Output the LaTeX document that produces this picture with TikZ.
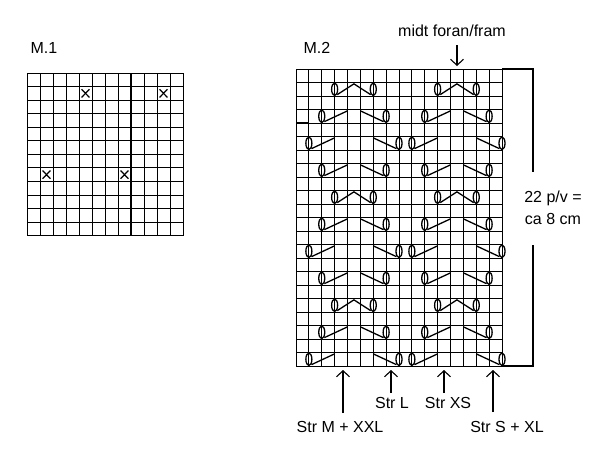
\documentclass[tikz,border=0pt]{standalone}
\usepackage{fontspec}
\setmainfont{Liberation Sans}
\usetikzlibrary{arrows.meta}
\begin{document}
\begin{tikzpicture}[x=1pt,y=-1pt,
  lbl/.style={font=\fontsize{16}{19}\selectfont, inner sep=0pt},
  grd/.style={line width=0.9pt},
  thk/.style={line width=1.8pt},
  sym/.style={line width=1.3pt},
  arr/.style={line width=1.1pt,-{Straight Barb[length=6pt,width=13pt]}}]
\useasboundingbox (0,0) rectangle (600,451);
% M.1
\node[lbl] (m1) at (44,48) {M.1};
\begin{scope}[shift={(27,73)},x=13pt,y=-13.55pt]
  \foreach \i in {0,...,12} \draw[grd] (\i,0) -- (\i,12) (0,\i) -- (12,\i);
  \draw[thk] (8,0) -- (8,12);
  \foreach \c/\r in {4/1,10/1,1/7,7/7}
    \draw[line width=1.2pt] (\c+0.2,\r+0.2) -- (\c+0.8,\r+0.8) (\c+0.2,\r+0.8) -- (\c+0.8,\r+0.2);
\end{scope}
% M.2
\node[lbl] (m2) at (317,48) {M.2};
\begin{scope}[shift={(296,69)},x=12.875pt,y=-13.5pt]
  \foreach \i in {0,...,16} \draw[grd] (\i,0) -- (\i,22);
  \foreach \i in {0,...,22} \draw[grd] (0,\i) -- (16,\i);
  \draw[thk] (0,4) -- (1,4);
  \foreach \o in {0,8}{
    \foreach \r in {1,9,17}{
      \draw[sym] (\o+3,\r+0.5) ellipse [x radius=3pt,y radius=6.3pt]
                 (\o+6,\r+0.5) ellipse [x radius=3pt,y radius=6.3pt];
      \draw[sym] (\o+3.2,\r+0.9) -- (\o+4.5,\r+0.1) -- (\o+5.8,\r+0.9);}
    \foreach \r in {3,7,11,15,19}{
      \draw[sym] (\o+2,\r+0.5) ellipse [x radius=3pt,y radius=6.3pt]
                 (\o+7,\r+0.5) ellipse [x radius=3pt,y radius=6.3pt];
      \draw[sym] (\o+2.2,\r+0.9) -- (\o+4,\r+0.1) (\o+5,\r+0.1) -- (\o+6.8,\r+0.9);}
    \foreach \r in {5,13,21}{
      \draw[sym] (\o+1,\r+0.5) ellipse [x radius=3pt,y radius=6.3pt]
                 (\o+8,\r+0.5) ellipse [x radius=3pt,y radius=6.3pt];
      \draw[sym] (\o+1.2,\r+0.9) -- (\o+3,\r+0.1) (\o+6,\r+0.1) -- (\o+7.8,\r+0.9);}
  }
\end{scope}
% bracket
\node[lbl,align=center] (size) at (553,208) {22 p/v =\\[3pt]ca 8 cm};
\draw[thk] (502,69) -- (533,69) -- (533,172);
\draw[thk] (533,245) -- (533,366) -- (502,366);
% top arrow
\node[lbl] (midt) at (452,31) {midt foran/fram};
\coordinate (midtA) at (457,45);
\coordinate (midtB) at (457,66);
\draw[arr] (midtA) -- (midtB);
% bottom labels
\node[lbl] (sM) at (340,427) {Str M + XXL};
\node[lbl] (sL) at (392,403) {Str L};
\node[lbl] (sXS) at (448,403) {Str XS};
\node[lbl] (sS) at (507,427) {Str S + XL};
\coordinate (aM) at (343,370);
\coordinate (aL) at (391,370);
\coordinate (aXS) at (444,370);
\coordinate (aS) at (493,370);
\draw[arr] (343,413) -- (aM);
\draw[arr] (391,393) -- (aL);
\draw[arr] (444,393) -- (aXS);
\draw[arr] (493,412) -- (aS);
\end{tikzpicture}
\end{document}
